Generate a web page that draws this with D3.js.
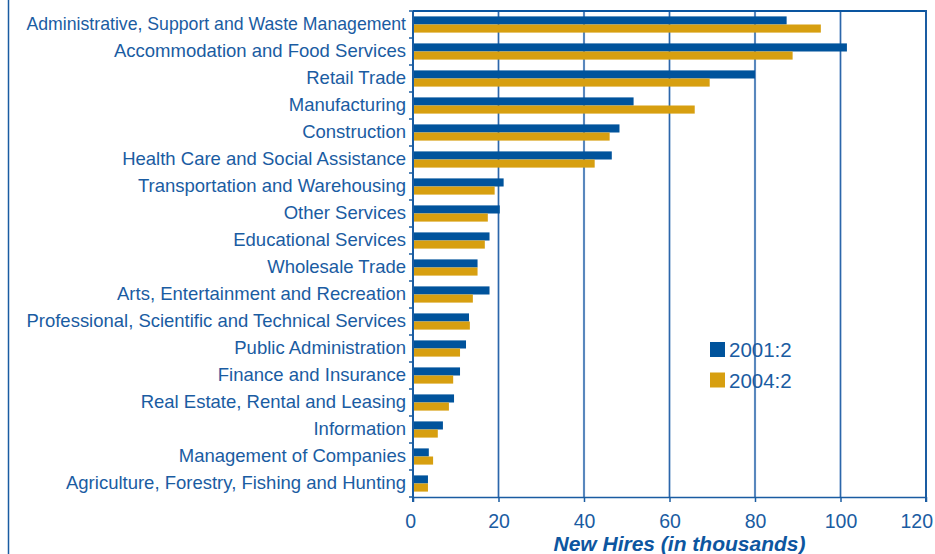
<!DOCTYPE html>
<html>
<head>
<meta charset="utf-8">
<script src="https://cdn.jsdelivr.net/npm/d3@7"></script>
<style>
  body { margin: 0; background: #fff; }
  svg { display: block; font-family: "Liberation Sans", Arial, Helvetica, sans-serif; }
  .cat text { fill: #1a5ca2; font-size: 18.5px; }
  .x.axis text { fill: #1a5ca2; font-size: 19.5px; }
</style>
</head>
<body>
<div id="chart"></div>
<script>
// categories, top to bottom
var categories = [
  "Administrative, Support and Waste Management",
  "Accommodation and Food Services",
  "Retail Trade",
  "Manufacturing",
  "Construction",
  "Health Care and Social Assistance",
  "Transportation and Warehousing",
  "Other Services",
  "Educational Services",
  "Wholesale Trade",
  "Arts, Entertainment and Recreation",
  "Professional, Scientific and Technical Services",
  "Public Administration",
  "Finance and Insurance",
  "Real Estate, Rental and Leasing",
  "Information",
  "Management of Companies",
  "Agriculture, Forestry, Fishing and Hunting"
];

// new hires, thousands
var hires2001 = [87.4, 101.5, 80.0, 51.6, 48.3, 46.5, 21.2, 20.3, 17.9, 15.1, 17.9, 13.1, 12.4, 11.0, 9.6, 7.0, 3.7, 3.5];
var hires2004 = [95.4, 88.8, 69.4, 65.9, 46.0, 42.5, 19.1, 17.5, 16.8, 15.1, 14.0, 13.3, 11.0, 9.4, 8.4, 5.8, 4.7, 3.5];

var seriesNames = ["2001:2", "2004:2"];
var seriesColors = ["#00539c", "#d79f10"];
var xTicks = [0, 20, 40, 60, 80, 100, 120];

var W = 935, H = 554;
var margin = {top: 11, right: 9, bottom: 57, left: 413};
var w = W - margin.left - margin.right,
    h = H - margin.top - margin.bottom;

var blue = "#1a5ca2";
var frameX = 8.5;

var svg = d3.select("#chart").append("svg")
    .attr("width", W)
    .attr("height", H);

// outer frame line on the left
svg.append("line")
    .attr("x1", frameX).attr("x2", frameX)
    .attr("y1", 0).attr("y2", H)
    .attr("stroke", blue).attr("stroke-width", 1.5);

var g = svg.append("g")
    .attr("transform", "translate(" + margin.left + "," + margin.top + ")");

var xScale = d3.scaleLinear().domain([0, 120]).range([0, w]);

var yScale = d3.scaleBand()
    .domain(categories)
    .range([0, h])
    .paddingInner(0.4)
    .paddingOuter(0.2);

var ySub = d3.scaleBand()
    .domain(seriesNames)
    .range([0, yScale.bandwidth()]);

// gridlines
g.selectAll(".grid")
    .data(xTicks.slice(1, -1))
    .enter().append("line")
    .attr("class", "grid")
    .attr("x1", function(d) { return xScale(d); })
    .attr("x2", function(d) { return xScale(d); })
    .attr("y1", 0).attr("y2", h)
    .attr("stroke", "#8fb0d6").attr("stroke-width", 2.2);
g.selectAll(".grid2")
    .data(xTicks.slice(1, -1))
    .enter().append("line")
    .attr("x1", function(d) { return xScale(d); })
    .attr("x2", function(d) { return xScale(d); })
    .attr("y1", 0).attr("y2", h)
    .attr("stroke", "#2c66aa").attr("stroke-width", 1.1);

// bars
var rows = categories.map(function(c, i) {
    return {cat: c, vals: [hires2001[i], hires2004[i]]};
});

var group = g.selectAll(".row")
    .data(rows)
    .enter().append("g")
    .attr("transform", function(d) { return "translate(0," + yScale(d.cat) + ")"; });

group.selectAll("rect")
    .data(function(d) { return d.vals.map(function(v, j) { return {s: seriesNames[j], v: v, c: seriesColors[j]}; }); })
    .enter().append("rect")
    .attr("x", xScale(0))
    .attr("y", function(d) { return ySub(d.s); })
    .attr("width", function(d) { return xScale(d.v) - xScale(0); })
    .attr("height", ySub.bandwidth())
    .attr("fill", function(d) { return d.c; });

// category labels, squeezed if they would run into the frame
var maxLabel = margin.left - 7 - frameX - 18;
var cat = g.append("g").attr("class", "cat");
cat.selectAll("text")
    .data(categories)
    .enter().append("text")
    .attr("x", -7)
    .attr("y", function(d) { return yScale(d) + yScale.bandwidth() / 2; })
    .attr("dy", "0.32em")
    .attr("text-anchor", "end")
    .text(function(d) { return d; })
    .each(function() {
        if (this.getComputedTextLength() > maxLabel) {
            d3.select(this).attr("textLength", maxLabel).attr("lengthAdjust", "spacingAndGlyphs");
        }
    });

// left axis ticks at category boundaries
var bounds = categories.map(function(d) { return yScale(d) - yScale.step() * yScale.paddingInner() / 2; });
bounds.push(h);
g.selectAll(".ytick")
    .data(bounds)
    .enter().append("line")
    .attr("x1", -4).attr("x2", 0)
    .attr("y1", function(d) { return d; })
    .attr("y2", function(d) { return d; })
    .attr("stroke", blue).attr("stroke-width", 1.5);

// x axis
var xAxis = d3.axisBottom(xScale).tickValues(xTicks).tickSize(5).tickPadding(12).tickSizeOuter(0);
var xg = g.append("g")
    .attr("class", "x axis")
    .attr("transform", "translate(0," + h + ")")
    .call(xAxis);
xg.select(".domain").attr("stroke", blue).attr("stroke-width", 1.5);
xg.selectAll(".tick line").attr("stroke", blue).attr("stroke-width", 1.5);
xg.selectAll(".tick text").attr("font-family", null).attr("font-size", null)
    .attr("dx", function(d) { return d === 120 ? "-0.5em" : (d === 0 ? "-0.15em" : 0); });

// left axis line, top and right border
g.append("line")
    .attr("x1", 0).attr("x2", 0).attr("y1", 0).attr("y2", h + 5)
    .attr("stroke", blue).attr("stroke-width", 2);
g.append("line")
    .attr("x1", 0).attr("x2", w).attr("y1", 0).attr("y2", 0)
    .attr("stroke", "#0a55a0").attr("stroke-width", 2.2);
g.append("line")
    .attr("x1", w).attr("x2", w).attr("y1", -1).attr("y2", h + 5)
    .attr("stroke", blue).attr("stroke-width", 2);

// axis title
g.append("text")
    .attr("x", (w) / 2 + 10)
    .attr("y", h + 54)
    .attr("text-anchor", "middle")
    .attr("fill", "#0d56a0")
    .style("font-size", "21px")
    .style("font-weight", "bold")
    .style("font-style", "italic")
    .text("New Hires (in thousands)");

// legend
var legend = svg.append("g").attr("transform", "translate(710,342)");
var li = legend.selectAll("g")
    .data(seriesNames)
    .enter().append("g")
    .attr("transform", function(d, i) { return "translate(0," + (i * 30.5) + ")"; });
li.append("rect")
    .attr("width", 15).attr("height", 15)
    .attr("fill", function(d, i) { return seriesColors[i]; });
li.append("text")
    .attr("x", 19)
    .attr("y", 15)
    .attr("fill", blue)
    .style("font-size", "20.5px")
    .text(function(d) { return d; });
</script>
</body>
</html>
